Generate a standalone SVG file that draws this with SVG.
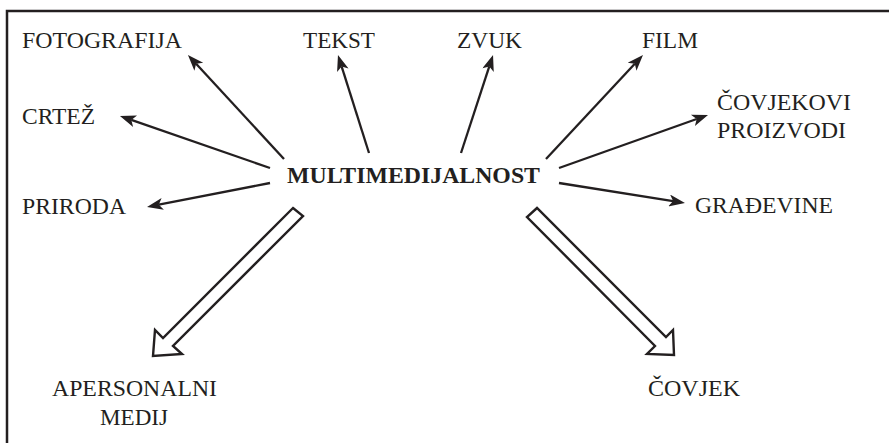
<svg xmlns="http://www.w3.org/2000/svg" width="889" height="443" viewBox="0 0 889 443" font-family="Liberation Serif, Times New Roman, Times, DejaVu Serif, serif">
  <style>
    text { fill: #231f20; font-size: 23.5px; }
    .title { font-weight: bold; }
    .thin { stroke: #231f20; stroke-width: 2.3; fill: none; marker-end: url(#head); }
    .block { stroke: #231f20; stroke-width: 2.4; fill: #ffffff; stroke-linejoin: miter; }
  </style>
  <defs>
    <marker id="head" markerUnits="userSpaceOnUse" markerWidth="18" markerHeight="12" viewBox="0 0 16 12" refX="4" refY="6" orient="auto">
      <path d="M0,0 L16,6 L0,12 L4,6 z" fill="#231f20"/>
    </marker>
  </defs>
  <rect width="889" height="443" fill="#ffffff"/>
  <!-- frame (open at right and bottom) -->
  <path d="M7,446 V11 H892" fill="none" stroke="#231f20" stroke-width="2.5"/>

  <g id="center"><text class="title" x="287" y="183" textLength="253" lengthAdjust="spacingAndGlyphs">MULTIMEDIJALNOST</text></g>
  <g id="fotografija"><text x="22" y="48" textLength="160" lengthAdjust="spacingAndGlyphs">FOTOGRAFIJA</text></g>
  <g id="tekst"><text x="303" y="48" textLength="72" lengthAdjust="spacingAndGlyphs">TEKST</text></g>
  <g id="zvuk"><text x="457" y="48" textLength="65" lengthAdjust="spacingAndGlyphs">ZVUK</text></g>
  <g id="film"><text x="642" y="48" textLength="56" lengthAdjust="spacingAndGlyphs">FILM</text></g>
  <g id="crtez"><text x="22" y="124" textLength="73" lengthAdjust="spacingAndGlyphs">CRTEŽ</text></g>
  <g id="priroda"><text x="22" y="214" textLength="104" lengthAdjust="spacingAndGlyphs">PRIRODA</text></g>
  <g id="covjekovi-proizvodi"><text x="717" y="110" textLength="134" lengthAdjust="spacingAndGlyphs">ČOVJEKOVI</text><text x="717" y="138" textLength="129" lengthAdjust="spacingAndGlyphs">PROIZVODI</text></g>
  <g id="gradevine"><text x="695" y="213" textLength="138" lengthAdjust="spacingAndGlyphs">GRAĐEVINE</text></g>
  <g id="apersonalni-medij"><text x="52" y="396" textLength="165" lengthAdjust="spacingAndGlyphs">APERSONALNI</text><text x="100" y="425" textLength="68" lengthAdjust="spacingAndGlyphs">MEDIJ</text></g>
  <g id="covjek"><text x="648" y="396" textLength="92" lengthAdjust="spacingAndGlyphs">ČOVJEK</text></g>

  <g id="connectors">
    <line class="thin" x1="284" y1="159" x2="196.1" y2="63.8"/>
    <line class="thin" x1="369" y1="153" x2="341.6" y2="66.4"/>
    <line class="thin" x1="270" y1="168" x2="131.3" y2="119.9"/>
    <line class="thin" x1="270" y1="183" x2="158.8" y2="204.7"/>
    <line class="thin" x1="461" y1="153" x2="489.3" y2="66.4"/>
    <line class="thin" x1="546" y1="159" x2="634.8" y2="63.8"/>
    <line class="thin" x1="559" y1="168" x2="696.7" y2="119.0"/>
    <line class="thin" x1="559" y1="183" x2="673.1" y2="201.1"/>
    <!-- hollow block arrows -->
    <polygon class="block" points="293,208 303,216 173,346 182,354 153,356 155,330 163,338"/>
    <polygon class="block" points="537,208 527,217 655,346 647,354 674,355 673,330 666,337"/>
  </g>
</svg>
